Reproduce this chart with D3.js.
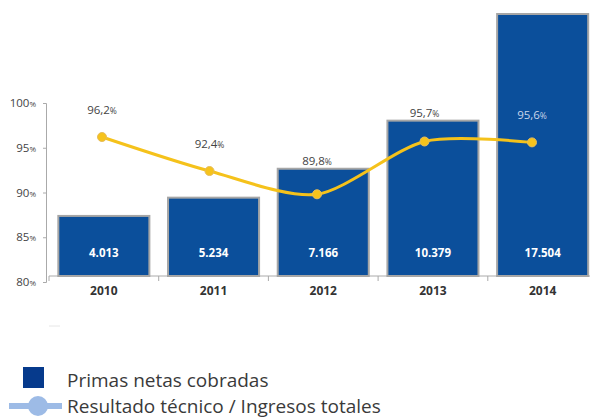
<!DOCTYPE html>
<html>
<head>
<meta charset="utf-8">
<script src="https://cdn.jsdelivr.net/npm/d3@7"></script>
<style>
  body { margin: 0; background: #fff; }
  text { font-family: "Open Sans", sans-serif; }
</style>
</head>
<body>
<div id="chart"></div>
<script>
const years = ['2010', '2011', '2012', '2013', '2014'];
const primas = [4013, 5234, 7166, 10379, 17504];
const primasLabels = ['4.013', '5.234', '7.166', '10.379', '17.504'];
const resultado = [96.2, 92.4, 89.8, 95.7, 95.6];
const resultadoLabels = ['96,2', '92,4', '89,8', '95,7', '95,6'];
const pctTicks = [80, 85, 90, 95, 100];
const legendNames = ['Primas netas cobradas', 'Resultado técnico / Ingresos totales'];

drawChart();

function drawChart() {
    const width = 590;
    const height = 420;
    const svg = d3.select('#chart')
    .append('svg')
    .attr('width', width)
    .attr('height', height);

    const baseY = 276;

    const x = d3.scaleBand()
    .domain(years)
    .range([49, 597.5])
    .paddingInner(0.17)
    .paddingOuter(0.085);

    const xLine = d3.scalePoint()
    .domain(years)
    .range([102, 532]);

    const yBar = d3.scaleLinear()
    .domain([0, d3.max(primas)])
    .range([baseY, 14]);

    const yPct = d3.scaleLinear()
    .domain([80, 100])
    .range([282, 103]);

    // y axis (percent)
    const yAxis = svg.append('g')
    .attr('transform', 'translate(46,0)')
    .call(d3.axisLeft(yPct).tickValues(pctTicks).tickSize(3).tickFormat(''));
    yAxis.select('.domain').attr('stroke', '#aaa');
    yAxis.selectAll('.tick line').attr('stroke', '#aaa');

    const tickLabels = svg.append('g').selectAll('text')
    .data(pctTicks)
    .enter()
    .append('text')
    .attr('x', 36)
    .attr('y', (d) => yPct(d) + 4)
    .attr('text-anchor', 'end')
    .attr('fill', '#444')
    .attr('font-size', 11.5);
    tickLabels.append('tspan').text((d) => d);
    tickLabels.append('tspan').attr('font-size', 8).text('%');

    // x axis baseline with ticks at band edges
    const xAxis = svg.append('g');
    xAxis.append('line')
    .attr('x1', 49).attr('x2', width)
    .attr('y1', baseY).attr('y2', baseY)
    .attr('stroke', '#aaa');
    xAxis.selectAll('.edge')
    .data(years)
    .enter()
    .append('line')
    .attr('x1', (d) => x(d) - x.step() * x.paddingInner() / 2)
    .attr('x2', (d) => x(d) - x.step() * x.paddingInner() / 2)
    .attr('y1', baseY).attr('y2', baseY + 5)
    .attr('stroke', '#aaa');

    // bars
    svg.append('g').selectAll('rect')
    .data(years)
    .enter()
    .append('rect')
    .attr('x', (d) => x(d))
    .attr('y', (d, i) => yBar(primas[i]))
    .attr('width', x.bandwidth())
    .attr('height', (d, i) => baseY - yBar(primas[i]))
    .attr('fill', '#0b4f9b')
    .attr('stroke', '#a6a6a6')
    .attr('stroke-width', 2);

    svg.append('g').selectAll('text')
    .data(years)
    .enter()
    .append('text')
    .attr('x', (d) => x(d) + x.bandwidth() / 2)
    .attr('y', 257)
    .attr('text-anchor', 'middle')
    .attr('fill', '#fff')
    .attr('font-weight', 'bold')
    .attr('font-size', 11.5)
    .text((d, i) => primasLabels[i]);

    svg.append('g').selectAll('text')
    .data(years)
    .enter()
    .append('text')
    .attr('x', (d) => x(d) + x.bandwidth() / 2)
    .attr('y', 295)
    .attr('text-anchor', 'middle')
    .attr('fill', '#333')
    .attr('font-weight', 'bold')
    .attr('font-size', 12)
    .text((d) => d);

    // line
    const line = d3.line()
    .x((d, i) => xLine(years[i]))
    .y((d) => yPct(d))
    .curve(d3.curveCardinal.tension(0.2));

    svg.append('path')
    .datum(resultado)
    .attr('d', line)
    .attr('fill', 'none')
    .attr('stroke', '#f5c21b')
    .attr('stroke-width', 3);

    svg.append('g').selectAll('circle')
    .data(resultado)
    .enter()
    .append('circle')
    .attr('cx', (d, i) => xLine(years[i]))
    .attr('cy', (d) => yPct(d))
    .attr('r', 4.5)
    .attr('fill', '#f6c31c')
    .attr('stroke', '#e6bd5c')
    .attr('stroke-width', 1);

    const pctLabels = svg.append('g').selectAll('text')
    .data(resultado)
    .enter()
    .append('text')
    .attr('x', (d, i) => xLine(years[i]))
    .attr('y', (d, i) => {
        let ly = yPct(d) - 23;
        const top = yBar(primas[i]);
        if (top > ly - 10 && top < ly + 8) ly = top - 4;
        return ly;
    })
    .attr('text-anchor', 'middle')
    .attr('font-size', 11.5)
    .attr('fill', (d, i) => {
        const ly = yPct(d) - 23;
        return yBar(primas[i]) < ly - 10 ? '#c9d5ea' : '#444';
    });
    pctLabels.append('tspan').text((d, i) => resultadoLabels[i]);
    pctLabels.append('tspan').attr('font-size', 8.5).text('%');

    // stray faint mark
    svg.append('line')
    .attr('x1', 49).attr('x2', 60)
    .attr('y1', 326).attr('y2', 326)
    .attr('stroke', '#e6e6e6');

    // legend
    const legend = svg.append('g').attr('class', 'legend');
    legend.append('rect')
    .attr('x', 23).attr('y', 367)
    .attr('width', 21).attr('height', 21)
    .attr('fill', '#063a8c');
    legend.append('line')
    .attr('x1', 9).attr('x2', 62)
    .attr('y1', 406).attr('y2', 406)
    .attr('stroke', '#9dbbe6')
    .attr('stroke-width', 6);
    legend.append('circle')
    .attr('cx', 38).attr('cy', 406)
    .attr('r', 10)
    .attr('fill', '#9dbbe6');
    legend.selectAll('.legendText')
    .data(legendNames)
    .enter()
    .append('text')
    .attr('x', 67)
    .attr('y', (d, i) => 387 + i * 26)
    .attr('font-size', 19)
    .attr('fill', '#3a3a3a')
    .text((d) => d);
}
</script>
</body>
</html>
